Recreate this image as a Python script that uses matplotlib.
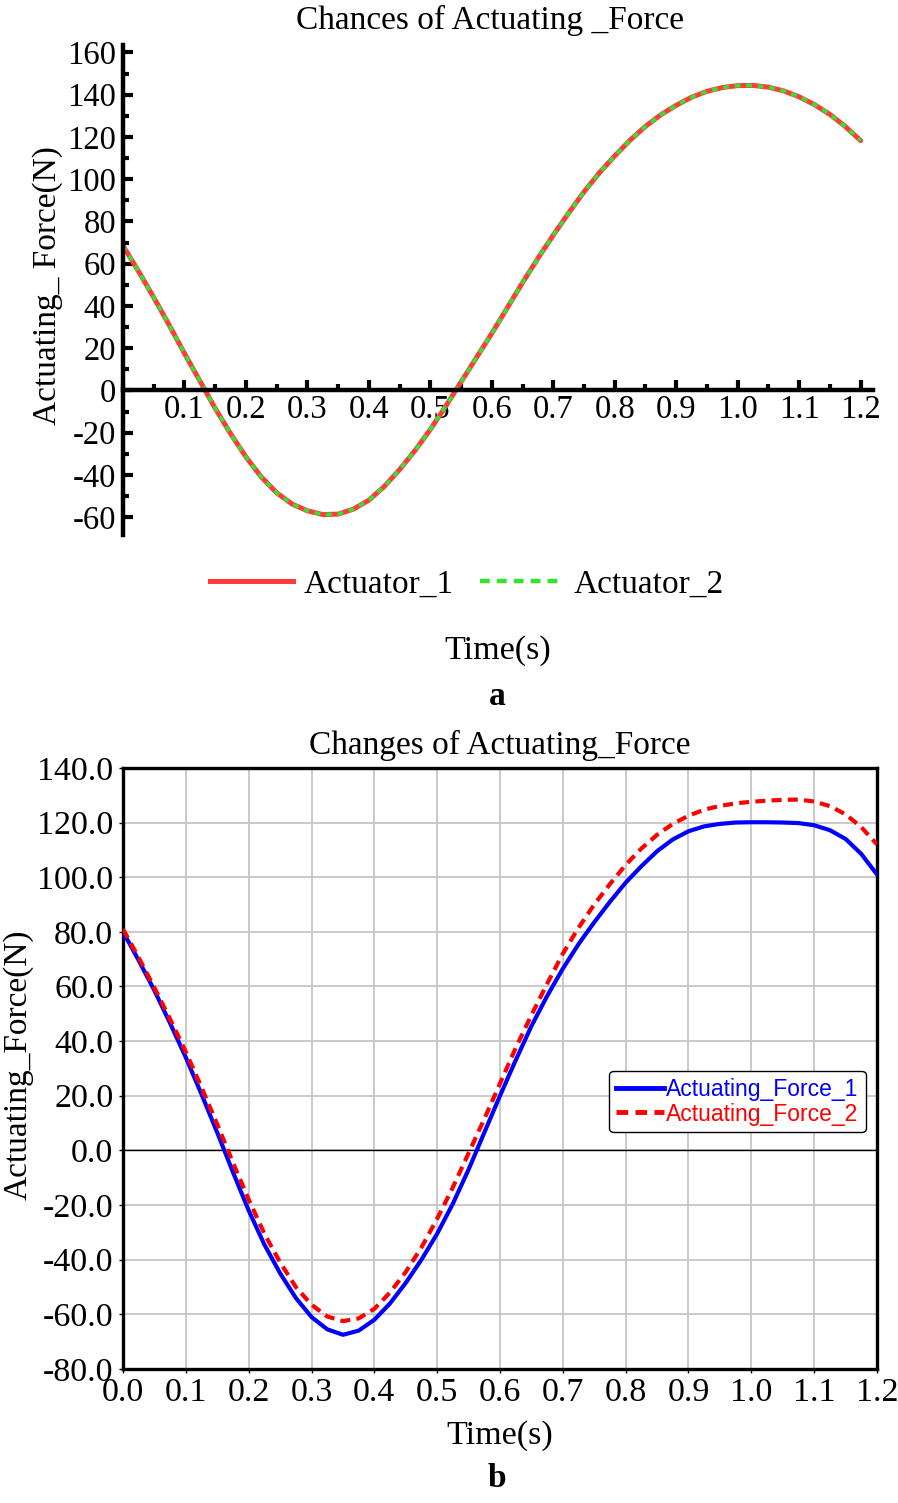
import matplotlib
matplotlib.use("Agg")
import matplotlib.pyplot as plt
from matplotlib.lines import Line2D
from matplotlib.ticker import MultipleLocator, FormatStrFormatter

plt.rcParams['font.family'] = ['Liberation Serif', 'DejaVu Serif']
plt.rcParams['axes.unicode_minus'] = False

# ---- data, panel a ----
t_a = [0.000, 0.025, 0.050, 0.075, 0.100, 0.125, 0.150, 0.175, 0.200, 0.225,
       0.250, 0.275, 0.300, 0.325, 0.350, 0.375, 0.400, 0.425, 0.450, 0.475,
       0.500, 0.525, 0.550, 0.575, 0.600, 0.625, 0.650, 0.675, 0.700, 0.725,
       0.750, 0.775, 0.800, 0.825, 0.850, 0.875, 0.900, 0.925, 0.950, 0.975,
       1.000, 1.025, 1.050, 1.075, 1.100, 1.125, 1.150, 1.175, 1.200]
actuator_1 = [68.5, 56.5, 44, 31, 17.5, 4.5, -8.5, -20.5, -31.5, -41,
              -48.5, -53.8, -57, -58.8, -58.6, -56.2, -52, -45.5, -37.5, -28.5,
              -18.5, -7.5, 4, 15.5, 27, 39, 51, 62.5, 73.5, 84,
              94, 103, 111, 118.5, 125, 130.5, 135, 138.8, 141.6, 143.4,
              144.3, 144.4, 143.6, 141.8, 139, 135.3, 130.7, 125, 118.3]
actuator_2 = list(actuator_1)

# ---- data, panel b ----
t_b = list(t_a)
force_1 = [80, 69.5, 58.5, 46.5, 34, 20.5, 6.5, -8, -22, -34.5,
           -45, -54, -61, -65.5, -67.5, -66, -62, -56, -48.5, -40,
           -30.5, -19.5, -7, 6.5, 20, 33, 45.5, 56.5, 66.5, 75.5,
           83.5, 91, 98, 104, 109.5, 113.8, 116.8, 118.6, 119.5, 120,
           120.1, 120.1, 120, 119.8, 119, 117.2, 114, 108.5, 101]
force_2 = [81, 70.5, 59.5, 48, 36, 23, 9.5, -4.5, -18, -30.5,
           -41, -50, -56.5, -60.8, -62.5, -61.5, -58, -52, -44.5, -35.5,
           -25, -13.5, -1, 11.5, 24.5, 37.5, 49.5, 61, 72, 81.5,
           90, 97.5, 104.5, 110.5, 115.5, 119.5, 122.5, 124.7, 126.1, 127,
           127.6, 128, 128.3, 128.4, 127.7, 126, 123, 118.3, 112]

RED_A = '#ff3b3b'
GREEN_A = '#2ee62e'

fig = plt.figure(figsize=(8.98, 15.03), dpi=100)

# ================= panel a =================
ax1 = fig.add_axes([0.137, 0.644, 0.835, 0.326])
ax1.plot(t_a, actuator_1, color=RED_A, lw=3.6, solid_capstyle='round')
ax1.plot(t_a, actuator_2, color=GREEN_A, lw=2.6, dashes=(1.6, 1.6))
ax1.set_xlim(0, 1.22)
ax1.set_ylim(-68.5, 163.5)
ax1.spines['top'].set_visible(False)
ax1.spines['right'].set_visible(False)
ax1.spines['bottom'].set_position(('data', 0))
for s in ('left', 'bottom'):
    ax1.spines[s].set_linewidth(3.2)
ax1.xaxis.set_minor_locator(MultipleLocator(0.05))
ax1.yaxis.set_minor_locator(MultipleLocator(10))
ax1.set_xticks([0.1 * i for i in range(1, 13)])
ax1.set_xticklabels(['%.1f' % (0.1 * i) for i in range(1, 13)])
ax1.set_yticks(list(range(-60, 161, 20)))
ax1.tick_params(axis='both', which='both', direction='in', width=3)
ax1.tick_params(axis='both', which='major', length=7.5, labelsize=23.5)
ax1.tick_params(axis='both', which='minor', length=4.5)
ax1.tick_params(axis='x', which='major', pad=3)
ax1.tick_params(axis='y', which='major', pad=5)

fig.text(0.5457, 0.9867, 'Chances of Actuating _Force', ha='center', va='center', fontsize=24)
fig.text(0.0535, 0.81, 'Actuating_ Force(N)', rotation=90, ha='center', va='center', fontsize=24)
fig.text(0.5546, 0.5669, 'Time(s)', ha='center', va='center', fontsize=24.5)
fig.text(0.5535, 0.5363, 'a', ha='center', va='center', fontsize=24, fontweight='bold')

h1 = Line2D([], [], color=RED_A, lw=3.6)
h2 = Line2D([], [], color=GREEN_A, lw=3.2, dashes=(2.2, 1.6))
fig.legend([h1, h2], ['Actuator_1', 'Actuator_2'], loc='center',
           bbox_to_anchor=(0.52, 0.611), ncol=2, frameon=False, fontsize=24,
           handlelength=2.5, handletextpad=0.3, columnspacing=0.8)

# ================= panel b =================
ax2 = fig.add_axes([0.137, 0.0892, 0.8396, 0.3999])
ax2.grid(True, color='#c6c6c6', lw=1.3)
ax2.set_axisbelow(True)
ax2.axhline(0, color='black', lw=1.0, zorder=1.5)
ax2.plot(t_b, force_1, color='#0000ff', lw=3.0, label='Actuating_Force_1', zorder=3)
ax2.plot(t_b, force_2, color='#ff0000', lw=3.0, dashes=(2.4, 1.5), label='Actuating_Force_2', zorder=3)
ax2.set_xlim(0, 1.2)
ax2.set_ylim(-80, 140)
ax2.xaxis.set_major_locator(MultipleLocator(0.1))
ax2.yaxis.set_major_locator(MultipleLocator(20))
ax2.xaxis.set_major_formatter(FormatStrFormatter('%.1f'))
ax2.yaxis.set_major_formatter(FormatStrFormatter('%.1f'))
for s in ax2.spines.values():
    s.set_linewidth(2.4)
ax2.tick_params(axis='both', direction='out', length=3, width=1, labelsize=24.5)
ax2.tick_params(axis='x', pad=3)
ax2.tick_params(axis='y', pad=4)

leg = ax2.legend(loc='upper right', bbox_to_anchor=(0.985, 0.496), borderaxespad=0,
                 prop={'family': 'Liberation Sans', 'size': 16.5},
                 handlelength=2.1, handletextpad=0.1, borderpad=0.3,
                 labelspacing=0.08, fancybox=True, framealpha=1)
leg.get_frame().set_edgecolor('black')
leg.get_frame().set_linewidth(1.0)
for line in leg.get_lines():
    line.set_linewidth(3.5)
for txt, c in zip(leg.get_texts(), ['#0000ff', '#ff0000']):
    txt.set_color(c)

fig.text(0.557, 0.5043, 'Changes of Actuating_Force', ha='center', va='center', fontsize=24)
fig.text(0.02, 0.2914, 'Actuating_Force(N)', rotation=90, ha='center', va='center', fontsize=24)
fig.text(0.557, 0.0446, 'Time(s)', ha='center', va='center', fontsize=24.5)
fig.text(0.5535, 0.0166, 'b', ha='center', va='center', fontsize=24, fontweight='bold')

fig.savefig('out.png', dpi=100)
